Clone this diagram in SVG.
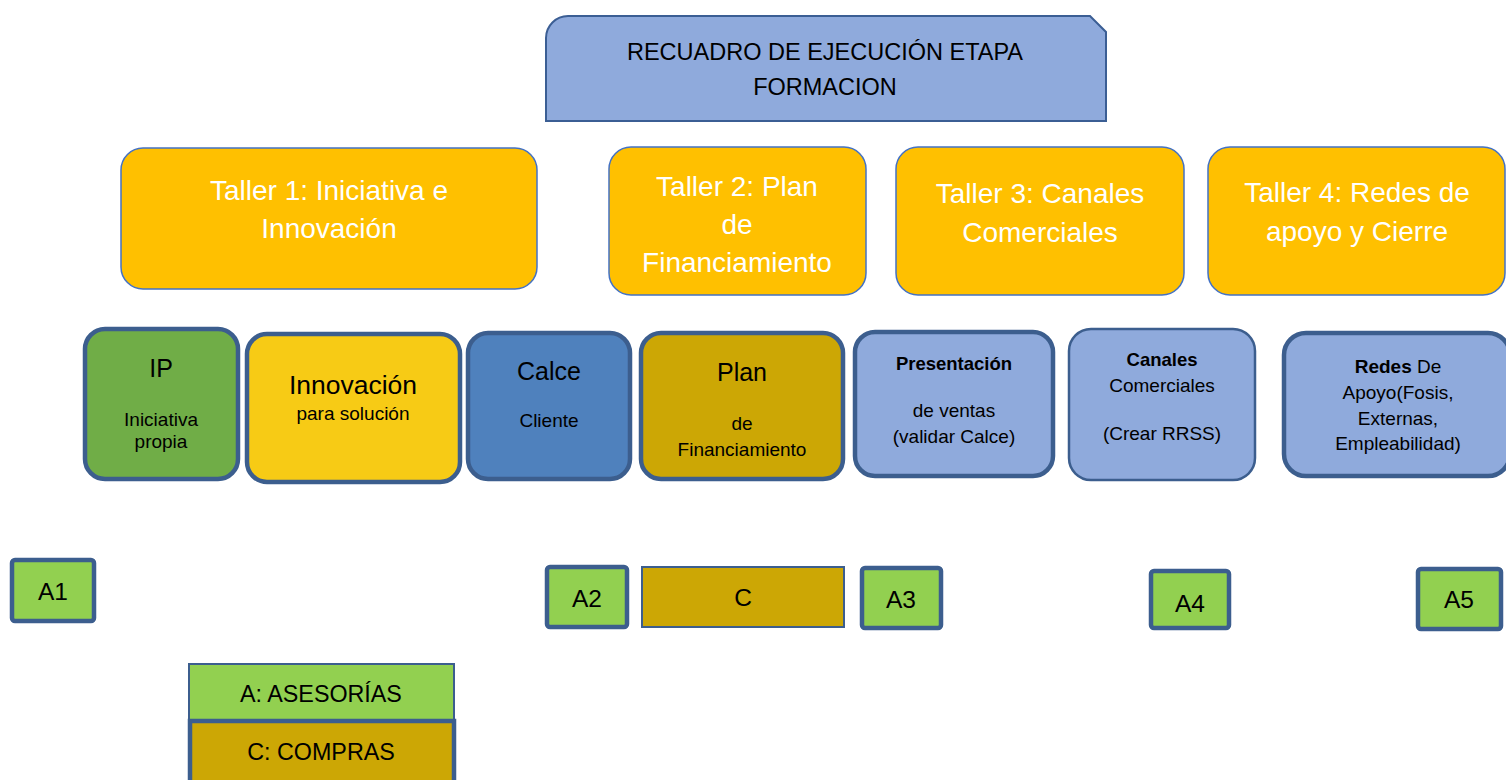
<svg xmlns="http://www.w3.org/2000/svg" width="1506" height="780" viewBox="0 0 1506 780">
<style>
text{font-family:"Liberation Sans",Arial,sans-serif;text-anchor:middle;fill:#000}
.taller rect{fill:#FFC000;stroke:#4472C4;stroke-width:1.5}
.taller text{fill:#fff;font-size:28px}
.blk rect{stroke:#3C5E8E;stroke-width:4.5}
.big{font-size:25px}
.sm{font-size:19px}
.bsm{font-size:18.5px;font-weight:bold}
.abox rect{fill:#92D050;stroke:#3C5E8E;stroke-width:4.5}
.abox text{font-size:24.5px}
rect.gold,.abox rect.gold{fill:#CCA705}
.lav{fill:#8FAADC}
</style>
<g id="title">
<path d="M568,16 H1090 L1106,32 V121 H546 V38 A22,22 0 0 1 568,16 Z" fill="#8FAADC" stroke="#3B5E94" stroke-width="2"/>
<text x="825" y="60" font-size="23.5">RECUADRO DE EJECUCIÓN ETAPA</text>
<text x="825" y="95" font-size="23.5">FORMACION</text>
</g>
<g id="taller1" class="taller">
<rect x="121" y="148" width="416" height="141" rx="22"/>
<text x="329" y="200">Taller 1: Iniciativa e</text>
<text x="329" y="238">Innovación</text>
</g>
<g id="taller2" class="taller">
<rect x="609" y="147" width="257" height="148" rx="22"/>
<text x="737" y="196">Taller 2: Plan</text>
<text x="737" y="234">de</text>
<text x="737" y="272">Financiamiento</text>
</g>
<g id="taller3" class="taller">
<rect x="896" y="147" width="288" height="148" rx="22"/>
<text x="1040" y="203">Taller 3: Canales</text>
<text x="1040" y="242">Comerciales</text>
</g>
<g id="taller4" class="taller">
<rect x="1208" y="147" width="297" height="148" rx="22"/>
<text x="1357" y="202">Taller 4: Redes de</text>
<text x="1357" y="241">apoyo y Cierre</text>
</g>
<g id="ip" class="blk">
<rect x="85" y="329" width="153" height="150" rx="20" fill="#70AD47"/>
<text x="161" y="377" class="big">IP</text>
<text x="161" y="426" class="sm">Iniciativa</text>
<text x="161" y="448" class="sm">propia</text>
</g>
<g id="innovacion" class="blk">
<rect x="247" y="334" width="213" height="148" rx="20" fill="#F7CB15"/>
<text x="353" y="394" style="font-size:26.5px">Innovación</text>
<text x="353" y="420" class="sm">para solución</text>
</g>
<g id="calce" class="blk">
<rect x="468" y="333" width="162" height="146" rx="20" fill="#4F81BD"/>
<text x="549" y="380" class="big">Calce</text>
<text x="549" y="427" class="sm">Cliente</text>
</g>
<g id="plan" class="blk">
<rect x="641" y="333" width="202" height="146" rx="20" class="gold"/>
<text x="742" y="381" class="big">Plan</text>
<text x="742" y="430" class="sm">de</text>
<text x="742" y="456" class="sm">Financiamiento</text>
</g>
<g id="presentacion" class="blk">
<rect x="855" y="332" width="198" height="144" rx="20" class="lav"/>
<text x="954" y="370" class="bsm">Presentación</text>
<text x="954" y="417" class="sm">de ventas</text>
<text x="954" y="443" class="sm">(validar Calce)</text>
</g>
<g id="canales" class="blk">
<rect x="1069" y="329" width="186" height="151" rx="22" class="lav" style="stroke-width:2.5"/>
<text x="1162" y="366" class="bsm">Canales</text>
<text x="1162" y="392" class="sm">Comerciales</text>
<text x="1162" y="440" class="sm">(Crear RRSS)</text>
</g>
<g id="redes" class="blk">
<rect x="1284" y="333" width="226" height="143" rx="22" class="lav"/>
<text x="1398" y="373" class="sm"><tspan font-weight="bold">Redes</tspan> De</text>
<text x="1398" y="399" class="sm">Apoyo(Fosis,</text>
<text x="1398" y="425" class="sm">Externas,</text>
<text x="1398" y="450" class="sm">Empleabilidad)</text>
</g>
<g id="a1" class="abox">
<rect x="12" y="560" width="82" height="61" rx="3"/>
<text x="53" y="600">A1</text>
</g>
<g id="a2" class="abox">
<rect x="547" y="567" width="80" height="60" rx="3"/>
<text x="587" y="607">A2</text>
</g>
<g id="c" class="abox">
<rect x="642" y="567" width="202" height="60" class="gold" style="stroke-width:2"/>
<text x="743" y="606">C</text>
</g>
<g id="a3" class="abox">
<rect x="862" y="568" width="79" height="60" rx="3"/>
<text x="901" y="608">A3</text>
</g>
<g id="a4" class="abox">
<rect x="1151" y="571" width="78" height="57" rx="3"/>
<text x="1190" y="612">A4</text>
</g>
<g id="a5" class="abox">
<rect x="1418" y="569" width="83" height="60" rx="3"/>
<text x="1459" y="608">A5</text>
</g>
<g id="legend-a" class="abox">
<rect x="189" y="664" width="265" height="56" style="stroke-width:2"/>
<text x="321" y="702" style="font-size:23.3px">A: ASESORÍAS</text>
</g>
<g id="legend-c" class="abox">
<rect x="190" y="721" width="264" height="64" class="gold"/>
<text x="321" y="760" style="font-size:23.3px">C: COMPRAS</text>
</g>
<g id="connectors"></g>
</svg>
